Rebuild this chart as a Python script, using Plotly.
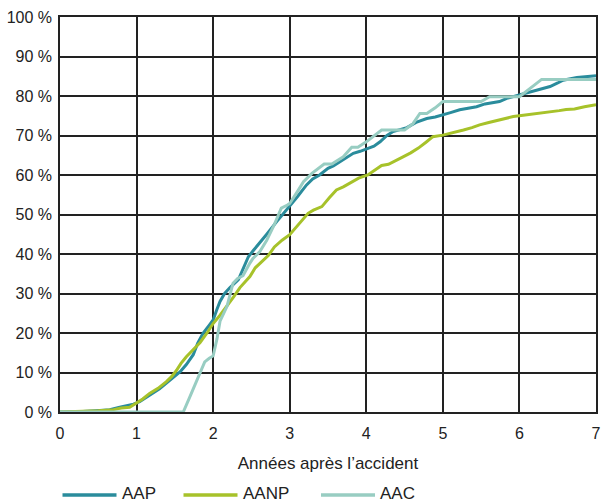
import plotly.graph_objects as go

# ---- data ----
aap_x = [0, 0.3, 0.52, 0.65, 0.78, 0.96, 1.04, 1.12, 1.22, 1.3, 1.39, 1.48, 1.57, 1.65, 1.74, 1.8, 1.87, 1.95,
         2.0, 2.05, 2.09, 2.15, 2.22, 2.33, 2.4, 2.46, 2.53, 2.61, 2.7, 2.83, 2.92, 3.0, 3.1, 3.22, 3.3, 3.39,
         3.5, 3.57, 3.7, 3.83, 3.92, 4.0, 4.1, 4.18, 4.27, 4.35, 4.45, 4.53, 4.65, 4.79, 4.9, 5.0, 5.1, 5.22,
         5.35, 5.44, 5.55, 5.65, 5.74, 5.85, 6.0, 6.1, 6.18, 6.3, 6.4, 6.5, 6.57, 6.75, 6.85, 7.0]
aap_y = [0, 0.1, 0.4, 0.6, 1.2, 2.0, 2.6, 3.6, 5.0, 5.9, 7.3, 8.7, 10.2, 12.0, 14.5, 17.5, 20.0, 22.0,
         23.3, 26.0, 28.0, 30.0, 31.5, 33.5, 36.5, 39.3, 41.0, 42.8, 45.0, 48.2, 50.3, 52.0, 54.5, 57.5, 59.0, 60.0,
         61.7, 62.3, 63.8, 65.5, 66.0, 66.6, 67.3, 68.4, 70.0, 71.0, 71.5, 72.0, 73.3, 74.3, 74.7, 75.2, 75.8, 76.5,
         77.0, 77.3, 78.0, 78.4, 78.6, 79.5, 80.3, 80.8, 81.3, 81.8, 82.4, 83.3, 84.0, 84.7, 84.9, 85.1]

aanp_x = [0, 0.3, 0.5, 0.7, 0.8, 0.91, 1.0, 1.08, 1.17, 1.28, 1.39, 1.46, 1.52, 1.58, 1.65, 1.73, 1.83, 1.92,
          2.0, 2.09, 2.18, 2.27, 2.35, 2.48, 2.55, 2.61, 2.72, 2.8, 2.9, 3.0, 3.13, 3.24, 3.31, 3.42, 3.52, 3.61,
          3.7, 3.8, 3.9, 4.02, 4.1, 4.2, 4.29, 4.4, 4.48, 4.58, 4.68, 4.78, 4.87, 5.0, 5.12, 5.27, 5.38, 5.48,
          5.6, 5.7, 5.82, 5.92, 6.05, 6.18, 6.3, 6.4, 6.52, 6.61, 6.72, 6.85, 7.0]
aanp_y = [0, 0.1, 0.3, 0.6, 1.0, 1.2, 2.3, 3.3, 4.7, 6.0, 7.7, 9.0, 10.5, 12.3, 14.0, 15.6, 17.6, 20.0,
          22.4, 24.5, 26.7, 29.2, 31.5, 34.3, 36.5, 37.6, 39.6, 41.8, 43.5, 44.9, 47.8, 50.3, 51.1, 52.0, 54.3, 56.2,
          57.0, 58.0, 59.2, 60.0, 61.0, 62.4, 62.7, 63.7, 64.6, 65.6, 66.8, 68.3, 69.7, 70.1, 70.6, 71.4, 72.0, 72.7,
          73.3, 73.8, 74.4, 74.8, 75.1, 75.4, 75.7, 76.0, 76.3, 76.6, 76.7, 77.3, 77.8]

aac_x = [0, 1.61, 1.7, 1.8, 1.89, 1.95, 2.0, 2.05, 2.09, 2.18, 2.26, 2.32, 2.39, 2.48, 2.52, 2.61, 2.7, 2.8,
         2.89, 2.97, 3.0, 3.1, 3.18, 3.29, 3.35, 3.45, 3.55, 3.7, 3.81, 3.89, 4.0, 4.1, 4.2, 4.5, 4.61, 4.7,
         4.79, 4.9, 5.0, 5.5, 5.61, 6.0, 6.29, 7.0]
aac_y = [0, 0, 4.0, 8.5, 12.7, 13.6, 14.2, 18.5, 23.0, 26.7, 32.6, 33.8, 34.5, 37.7, 38.9, 40.6, 43.5, 47.5,
         51.6, 52.4, 52.8, 55.8, 58.3, 60.4, 61.3, 62.8, 62.8, 64.6, 67.0, 67.0, 68.4, 69.8, 71.4, 71.4, 73.0, 75.6,
         75.6, 77.0, 78.6, 78.6, 79.8, 79.8, 84.2, 84.2]

series_names = ["AAP", "AANP", "AAC"]
series_colors = ["#2a8c9c", "#a7c22a", "#98cdc2"]

y_ticks = [0, 10, 20, 30, 40, 50, 60, 70, 80, 90, 100]
y_labels = [f"{v} %" for v in y_ticks]
x_ticks = [0, 1, 2, 3, 4, 5, 6, 7]

FONT = "Liberation Sans, Arial, Helvetica, sans-serif"

W, H = 601, 502
L, R, T, B = 60, 5, 17, 90
pw, ph = W - L - R, H - T - B

def px2paper_x(px):   # page pixel -> paper fraction
    return (px - L) / pw

def px2paper_y(py):
    return (H - B - py) / ph

fig = go.Figure()
for name, xs, ys, col in zip(series_names, [aap_x, aanp_x, aac_x], [aap_y, aanp_y, aac_y], series_colors):
    fig.add_trace(go.Scatter(x=xs, y=ys, name=name, mode="lines",
                             line=dict(color=col, width=3), showlegend=False, cliponaxis=False))

# legend drawn below the plot (long line samples as in the reference)
legend_starts = [62.5, 183.5, 321]
for name, col, sx in zip(series_names, series_colors, legend_starts):
    fig.add_shape(type="line", xref="paper", yref="paper",
                  x0=px2paper_x(sx), x1=px2paper_x(sx + 54),
                  y0=px2paper_y(495), y1=px2paper_y(495),
                  line=dict(color=col, width=3.5))
    fig.add_annotation(xref="paper", yref="paper", x=px2paper_x(sx + 57), y=px2paper_y(493.5),
                       xanchor="left", yanchor="middle", text=name, showarrow=False,
                       font=dict(size=17, color="#222"))

fig.update_layout(
    width=W, height=H,
    margin=dict(l=L, r=R, t=T, b=B),
    paper_bgcolor="white", plot_bgcolor="white",
    font=dict(family=FONT, size=16, color="#222"),
    showlegend=False,
)
fig.update_xaxes(range=[0, 7], tickvals=x_ticks, showgrid=True, gridcolor="#222", gridwidth=1.5,
                 showline=True, linecolor="#222", linewidth=1.5, mirror=True, zeroline=False,
                 ticks="", ticklabelstandoff=6, automargin=False,
                 title=dict(text="Années après l’accident", font=dict(size=17), standoff=16))
fig.update_yaxes(range=[0, 100], tickvals=y_ticks, ticktext=y_labels, showgrid=True, gridcolor="#222",
                 gridwidth=1.5, showline=True, linecolor="#222", linewidth=1.5, mirror=True, zeroline=False,
                 ticks="", ticklabelstandoff=3, automargin=False)

fig.write_html("out.html", config={"displayModeBar": False},
               post_script="document.body.style.margin='0px';")
